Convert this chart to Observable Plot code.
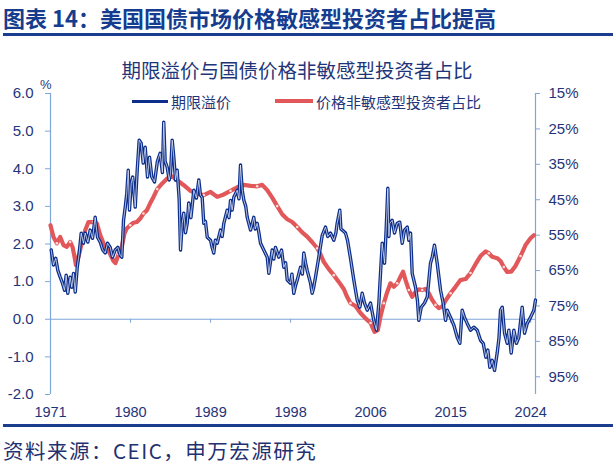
<!DOCTYPE html>
<html><head><meta charset="utf-8">
<script src="https://cdn.jsdelivr.net/npm/d3@7"></script>
<script src="https://cdn.jsdelivr.net/npm/@observablehq/plot@0.6"></script>
<style>
body{margin:0;background:#fff;}
#wrap{position:relative;width:616px;height:467px;overflow:hidden;background:#fff;}
#wrap svg{position:absolute;left:0;top:0;}
.t{position:absolute;white-space:nowrap;font-family:"Noto Sans CJK SC","Noto Sans",sans-serif;}
</style></head>
<body><div id="wrap"></div>
<script>
// ---- data ----
const chartTitle = "图表 14：美国国债市场价格敏感型投资者占比提高";
const chartSubtitle = "期限溢价与国债价格非敏感型投资者占比";
const seriesNames = ["期限溢价", "价格非敏感型投资者占比"];
const sourceText = "资料来源：CEIC，申万宏源研究";
const yLeftTicks = [-2, -1, 0, 1, 2, 3, 4, 5, 6];
const yRightTicks = [15, 25, 35, 45, 55, 65, 75, 85, 95];
const xTickLabels = ["1971", "1980", "1989", "1998", "2006", "2015", "2024"];

const termYears = [1971.58,1971.83,1972.08,1972.31,1972.57,1972.82,1973.05,1973.23,1973.41,1973.67,1973.85,1974.04,1974.23,1974.45,1974.67,1974.89,1975.14,1975.33,1975.62,1975.88,1976.14,1976.43,1976.69,1976.99,1977.27,1977.54,1977.79,1978.09,1978.34,1978.64,1978.93,1979.19,1979.37,1979.56,1979.75,1979.92,1980.08,1980.22,1980.41,1980.58,1980.85,1981.07,1981.29,1981.51,1981.73,1981.95,1982.21,1982.43,1982.68,1982.98,1983.3,1983.6,1983.85,1984.0,1984.15,1984.38,1984.6,1984.75,1984.93,1985.11,1985.3,1985.48,1985.7,1985.85,1986.04,1986.21,1986.4,1986.59,1986.76,1987.0,1987.32,1987.61,1987.87,1988.05,1988.24,1988.42,1988.6,1988.8,1989.16,1989.35,1989.52,1989.7,1989.9,1990.26,1990.45,1990.63,1991.0,1991.2,1991.37,1991.55,1991.73,1992.11,1992.3,1992.47,1992.66,1992.84,1993.05,1993.21,1993.58,1993.94,1994.1,1994.31,1994.5,1994.68,1995.04,1995.42,1995.6,1995.97,1996.15,1996.33,1996.7,1997.0,1997.25,1997.45,1997.63,1997.99,1998.15,1998.35,1998.55,1998.73,1999.09,1999.3,1999.46,1999.65,1999.83,2000.2,2000.38,2000.55,2000.75,2001.11,2001.49,2001.85,2002.1,2002.4,2002.77,2003.0,2003.14,2003.43,2003.55,2003.7,2004.06,2004.28,2004.61,2004.98,2005.35,2005.64,2005.9,2006.16,2006.46,2006.82,2007.0,2007.18,2007.48,2007.74,2008.11,2008.37,2008.55,2008.73,2008.85,2008.95,2009.21,2009.47,2009.77,2010.05,2010.32,2010.57,2010.87,2011.05,2011.24,2011.42,2011.79,2012.0,2012.15,2012.42,2012.78,2013.08,2013.44,2013.63,2013.88,2014.18,2014.55,2014.84,2015.1,2015.29,2015.65,2016.02,2016.39,2016.68,2016.94,2017.19,2017.49,2017.86,2018.22,2018.6,2018.96,2019.26,2019.55,2019.77,2019.99,2020.25,2020.51,2020.8,2021.0,2021.17,2021.36,2021.61,2021.91,2022.09,2022.35,2022.64,2022.93,2023.19,2023.56,2023.82,2024.12,2024.48,2024.85,2025.03];
const termPremium = [1.84,1.44,1.62,1.30,1.12,0.96,0.77,1.17,0.69,1.12,0.85,1.22,0.72,1.38,1.76,2.29,2.02,2.29,2.05,2.37,2.15,2.71,2.18,2.05,1.84,1.76,2.02,1.91,1.65,1.84,1.91,1.70,1.65,2.63,2.98,3.35,3.96,2.90,3.62,3.78,2.98,3.96,4.76,4.68,4.15,4.57,3.78,4.31,3.78,3.65,4.20,4.41,3.90,5.24,4.20,4.04,3.70,3.88,4.76,4.31,3.70,3.96,3.20,1.84,2.55,2.82,2.30,2.55,3.09,2.70,3.43,3.22,3.70,3.30,3.24,2.55,2.60,2.18,2.10,1.90,1.76,2.10,2.02,2.37,2.20,2.55,2.90,2.70,3.16,2.90,3.24,3.43,3.20,4.10,3.43,3.16,3.00,2.71,2.37,2.71,2.40,2.55,2.30,2.02,1.84,1.65,1.22,1.84,1.60,1.91,1.65,1.84,1.38,1.50,1.04,0.96,1.20,0.69,0.90,1.04,1.38,1.20,1.76,1.50,1.30,0.96,0.69,0.85,1.12,1.65,2.23,2.45,2.20,2.29,2.10,2.30,2.55,2.90,2.40,2.37,2.29,2.10,1.62,1.04,0.51,0.32,0.69,0.43,0.24,0.43,0.20,-0.03,-0.29,0.43,2.02,1.49,2.40,3.48,2.20,2.55,2.63,2.29,2.55,2.58,2.02,2.37,2.45,2.10,2.29,1.22,0.85,0.50,-0.03,0.32,0.43,0.59,1.49,1.65,1.97,1.49,0.77,0.43,-0.03,0.24,0.05,-0.16,-0.48,-0.64,0.24,0.05,-0.11,-0.29,-0.21,-0.29,-0.56,-0.64,-1.01,-0.82,-1.28,-1.09,-1.36,-0.90,-0.50,0.24,0.32,-0.37,-0.64,-0.29,-0.90,-0.29,-0.64,-0.48,0.32,-0.37,-0.11,0.05,0.24,0.51];

const shareYears = [1971.5,1971.83,1972.2,1972.57,1972.93,1973.3,1973.67,1973.93,1974.15,1974.31,1974.59,1974.95,1975.33,1975.69,1976.25,1976.61,1976.99,1977.35,1977.71,1978.09,1978.45,1978.67,1979.01,1979.37,1979.67,1979.92,1980.3,1980.66,1981.03,1981.4,1981.76,1982.13,1982.5,1982.87,1983.28,1983.83,1984.38,1984.93,1985.48,1986.21,1986.95,1987.69,1988.42,1989.16,1989.9,1990.63,1991.37,1992.11,1992.84,1993.58,1994.31,1994.87,1995.42,1995.97,1996.52,1997.07,1997.63,1998.18,1998.73,1999.28,1999.83,2000.39,2000.94,2001.3,2001.67,2002.22,2002.77,2003.32,2003.87,2004.25,2004.61,2005.16,2005.71,2006.27,2006.82,2007.26,2007.63,2007.92,2008.29,2008.66,2009.02,2009.39,2009.77,2010.13,2010.41,2010.69,2011.05,2011.42,2011.79,2012.15,2012.53,2012.89,2013.25,2013.63,2013.99,2014.36,2014.73,2015.1,2015.65,2016.2,2016.75,2017.31,2017.86,2018.41,2018.96,2019.51,2019.88,2020.25,2020.8,2021.17,2021.53,2021.91,2022.35,2022.82,2023.38,2023.93,2024.48,2024.85];
const insensitiveShare = [52.2,55.5,57.3,55.5,57.8,58.3,56.9,58.3,61.1,63.5,61.1,57.3,53.6,51.3,51.3,51.7,55.0,57.3,58.7,60.4,62.3,62.9,60.4,58.3,54.5,53.1,52.2,51.5,51.3,50.3,48.9,48.0,46.0,44.2,42.0,40.4,39.0,38.4,39.5,40.9,42.5,43.3,43.7,42.8,44.2,43.5,42.5,41.5,40.8,41.1,41.2,40.8,42.3,44.4,46.8,49.1,50.5,51.3,52.7,54.2,55.4,57.0,58.7,60.4,62.6,64.6,66.3,68.2,70.2,72.5,74.2,75.0,77.0,78.5,79.8,82.3,81.8,78.0,74.2,71.1,68.6,69.6,68.6,66.7,65.3,67.7,70.5,72.4,71.0,70.3,70.5,70.2,71.4,73.3,74.7,75.6,75.2,73.5,71.4,69.6,67.7,67.4,65.7,63.2,60.9,59.6,60.1,61.1,61.5,62.3,64.0,65.4,65.3,63.7,60.9,57.8,55.9,55.0];

// ---- styling ----
const navy = "#0d2f8c", red = "#e2585a", axisColor = "#7fa7d9", textColor = "#1f3579";
const xDomain = [1971.5, 2025.03];
const leftDomain = [-2, 6];
const rightDomain = [15, 100];
// right axis (inverted, %) expressed in left-axis units
const rightToLeft = d3.scaleLinear().domain(rightDomain).range([leftDomain[1], leftDomain[0]]);

const term = termYears.map((t, i) => ({t, v: termPremium[i]}));
const share = shareYears.map((t, i) => ({t, v: rightToLeft(insensitiveShare[i]), p: insensitiveShare[i]}));
const xTicks = xTickLabels.map((_, k) => xDomain[0] + k * 106 / 12);

const chart = Plot.plot({
  width: 616, height: 467,
  marginTop: 93, marginBottom: 73, marginLeft: 50, marginRight: 81,
  style: {fontFamily: "'Liberation Sans', Arial, sans-serif", fontSize: "15px", color: textColor, background: "transparent"},
  x: {type: "linear", domain: xDomain},
  y: {domain: leftDomain},
  marks: [
    Plot.ruleY([0], {stroke: axisColor, strokeWidth: 1.2}),
    Plot.ruleX([xDomain[0], xDomain[1]], {stroke: axisColor, strokeWidth: 1.2}),
    Plot.ruleX(xTicks, {y1: 0, y2: 0, insetBottom: -4, stroke: axisColor}),
    Plot.axisY(yLeftTicks, {anchor: "left", tickSize: 5, tickPadding: 12, stroke: axisColor, fill: textColor, tickFormat: d => d.toFixed(1), label: null}),
    Plot.axisY(yRightTicks.map(p => rightToLeft(p)), {anchor: "right", tickSize: 4, tickPadding: 9, stroke: axisColor, fill: textColor, tickFormat: d => Math.round(rightToLeft.invert(d)) + "%", label: null}),
    Plot.axisX(xTicks, {anchor: "bottom", tickSize: 0, tickPadding: 12, fill: textColor, fontSize: 14.5, tickFormat: d => xTickLabels[xTicks.indexOf(d)], label: null}),
    Plot.line(share, {x: "t", y: "v", stroke: red, strokeWidth: 4.2, strokeLinejoin: "round", strokeLinecap: "round"}),
    Plot.dot(share.filter((d, i) => i % 4 === 2), {x: "t", y: "v", r: 1.3, fill: "white", fillOpacity: 0.8, stroke: null}),
    Plot.line(term, {x: "t", y: "v", stroke: navy, strokeWidth: 3.4, strokeLinejoin: "round"}),
    Plot.line(term, {x: "t", y: "v", stroke: "white", strokeWidth: 0.8, strokeOpacity: 0.85, strokeLinejoin: "round"})
  ]
});
const wrap = document.getElementById("wrap");
wrap.appendChild(chart);

function addText(txt, css) {
  const d = document.createElement("div");
  d.className = "t"; d.textContent = txt; d.style.cssText += css; wrap.appendChild(d); return d;
}
function addBox(css) {
  const d = document.createElement("div");
  d.style.cssText = "position:absolute;" + css; wrap.appendChild(d); return d;
}
addText(chartTitle, "left:3px;top:4px;font-size:22px;line-height:26px;font-weight:bold;color:#153c8e;");
addBox("left:3px;top:33px;width:610px;height:3px;background:#1b3d8e;");
addText(chartSubtitle, "left:0;top:58px;width:594px;text-align:center;font-size:19.5px;line-height:24px;color:" + textColor + ";");
addText("%", "left:40px;top:77px;font-size:13px;line-height:16px;color:" + textColor + ";font-family:'Liberation Sans',Arial,sans-serif;");
addBox("left:132px;top:99.5px;width:36px;height:3px;background:" + navy + ";");
addText(seriesNames[0], "left:171px;top:92px;font-size:15px;line-height:20px;color:" + textColor + ";");
addBox("left:275px;top:99px;width:38px;height:4px;background:" + red + ";");
addText(seriesNames[1], "left:316px;top:92px;font-size:15px;line-height:20px;color:" + textColor + ";");
addBox("left:3px;top:424px;width:610px;height:3px;background:#1b3d8e;");
addText(sourceText, "left:3px;top:437px;font-size:20.5px;line-height:26px;letter-spacing:1.5px;color:#1f3170;");
</script>
</body></html>
